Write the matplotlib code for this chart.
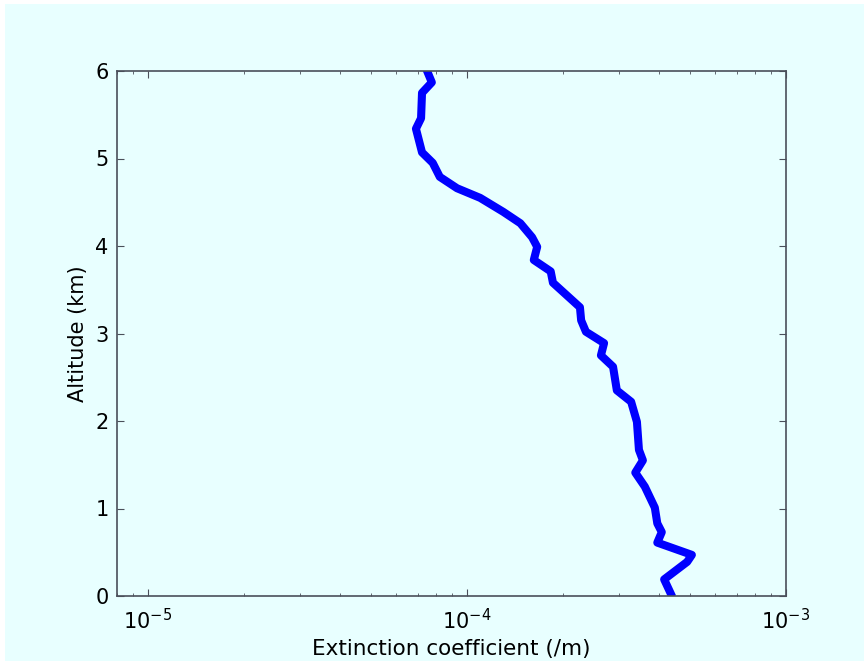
import matplotlib
matplotlib.use("Agg")
import matplotlib.pyplot as plt
from matplotlib.patches import Rectangle

# extinction profile (value in /m, altitude in km)
extinction = [4.35e-4, 4.15e-4, 4.90e-4, 5.07e-4, 3.95e-4, 4.08e-4, 3.95e-4,
              3.88e-4, 3.61e-4, 3.37e-4, 3.56e-4, 3.46e-4, 3.41e-4, 3.27e-4,
              2.95e-4, 2.87e-4, 2.63e-4, 2.69e-4, 2.36e-4, 2.28e-4, 2.26e-4,
              1.86e-4, 1.83e-4, 1.62e-4, 1.66e-4, 1.60e-4, 1.47e-4, 1.30e-4,
              1.10e-4, 9.31e-5, 8.22e-5, 7.81e-5, 7.23e-5, 6.92e-5, 7.18e-5,
              7.23e-5, 7.76e-5, 7.50e-5]
altitude = [0.03, 0.19, 0.39, 0.47, 0.61, 0.73, 0.83,
            1.01, 1.25, 1.41, 1.55, 1.67, 1.99, 2.22,
            2.35, 2.62, 2.75, 2.89, 3.02, 3.15, 3.30,
            3.58, 3.71, 3.84, 3.99, 4.10, 4.26, 4.39,
            4.55, 4.66, 4.79, 4.95, 5.07, 5.34, 5.46,
            5.75, 5.87, 6.00]

bg = '#e8ffff'
fig = plt.figure(figsize=(8.64, 6.61), dpi=100, facecolor='white')
# the screenshot has a thin white margin at top/left
fig.patches.append(Rectangle((5 / 864, 0), 1, 1 - 4 / 661, transform=fig.transFigure,
                             facecolor=bg, edgecolor='none', zorder=-10))

ax = fig.add_axes([117 / 864, 1 - 596 / 661, (786 - 117) / 864, (596 - 71) / 661])
ax.set_facecolor(bg)
ax.plot(extinction, altitude, color='#0000ff', lw=5.8, solid_capstyle='projecting')
ax.set_xscale('log')
ax.set_xlim(8e-6, 1e-3)
ax.set_ylim(0, 6)
ax.set_yticks(range(0, 7))

for s in ax.spines.values():
    s.set_color('#4a4f5a')
    s.set_linewidth(1.2)
ax.tick_params(which='both', direction='in', top=True, right=True, color='#4a4f5a',
               labelsize=15, pad=6)
ax.tick_params(axis='x', which='major', pad=9)
ax.tick_params(which='major', length=5)
ax.tick_params(which='minor', length=2.5)

ax.set_xlabel('Extinction coefficient (/m)', fontsize=15.5, labelpad=4)
ax.set_ylabel('Altitude (km)', fontsize=15, labelpad=5)

fig.savefig('out.png', dpi=100, facecolor=fig.get_facecolor())
